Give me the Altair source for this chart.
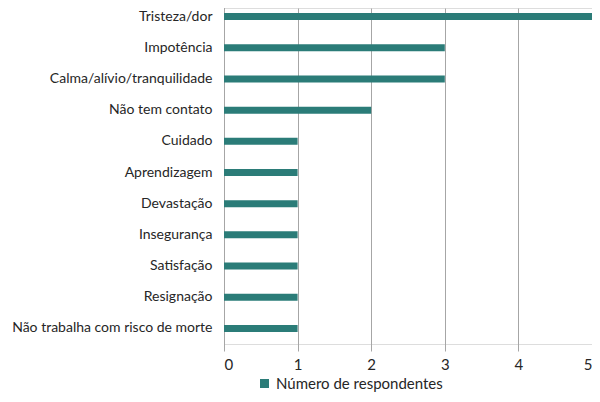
import altair as alt
import pandas as pd

categorias = [
    "Tristeza/dor",
    "Impotência",
    "Calma/alívio/tranquilidade",
    "Não tem contato",
    "Cuidado",
    "Aprendizagem",
    "Devastação",
    "Insegurança",
    "Satisfação",
    "Resignação",
    "Não trabalha com risco de morte",
]
valores = [5, 3, 3, 2, 1, 1, 1, 1, 1, 1, 1]
serie = "Número de respondentes"
x_ticks = [0, 1, 2, 3, 4, 5]

df = pd.DataFrame({"categoria": categorias, "valor": valores, "serie": [serie] * len(categorias)})

FONT = "Lato"

chart = (
    alt.Chart(df)
    .mark_bar(size=7)
    .encode(
        y=alt.Y(
            "categoria:N",
            sort=categorias,
            scale=alt.Scale(range=[-7, 336], paddingInner=0, paddingOuter=0),
            axis=alt.Axis(
                title=None,
                ticks=False,
                domain=True,
                domainColor="#A6A6A6",
                labelFontSize=14,
                labelColor="#262626",
                labelFont=FONT,
                labelPadding=12,
                labelLimit=300,
                grid=False,
            ),
        ),
        x=alt.X(
            "valor:Q",
            scale=alt.Scale(domain=[0, 5], nice=False),
            axis=alt.Axis(
                title=None,
                values=x_ticks,
                grid=True,
                gridColor="#A6A6A6",
                domain=False,
                ticks=False,
                labelFontSize=15,
                labelColor="#262626",
                labelFont=FONT,
                labelPadding=13,
                labelFlush=True,
                format="d",
            ),
        ),
        color=alt.Color(
            "serie:N",
            scale=alt.Scale(range=["#2B7C78"]),
            legend=alt.Legend(
                title=None,
                orient="none",
                legendX=33,
                legendY=368,
                symbolType="square",
                symbolSize=81,
                labelFontSize=15,
                labelFont=FONT,
                labelColor="#262626",
                labelLimit=300,
                symbolStrokeWidth=0,
            ),
        ),
    )
    .properties(
        width=368,
        height=336,
        autosize=alt.AutoSizeParams(type="none"),
        padding={"left": 216, "top": 0, "right": 0, "bottom": 50},
    )
    .configure_view(stroke=None)
    .configure(background="white")
)

chart.save("out.html", embed_options={"renderer": "svg", "actions": False})
